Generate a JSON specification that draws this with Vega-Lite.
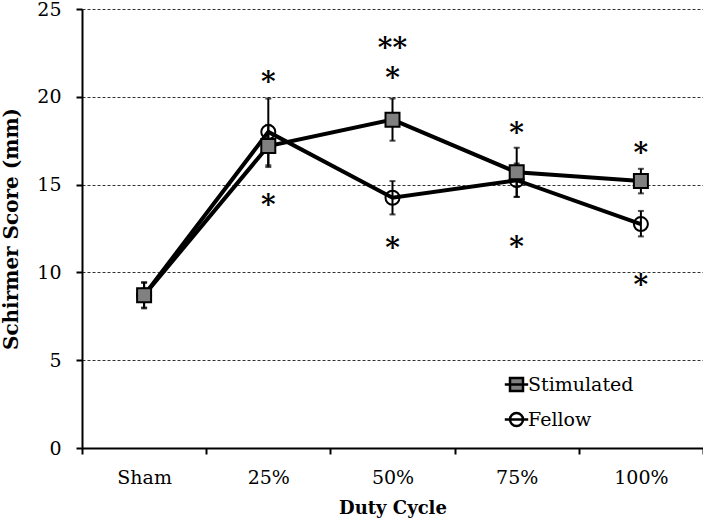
{
  "$schema": "https://vega.github.io/schema/vega-lite/v6.json",
  "width": 621,
  "height": 439,
  "autosize": {"type": "none"},
  "padding": {"left": 82, "top": 9, "right": 0, "bottom": 71},
  "background": "white",
  "config": {
    "view": {"stroke": null},
    "font": "DejaVu Serif",
    "axis": {
      "labelFont": "DejaVu Serif",
      "labelFontSize": 19,
      "labelColor": "black",
      "titleFont": "DejaVu Serif",
      "titleFontSize": 18,
      "titleFontWeight": "bold",
      "titleColor": "black",
      "domainColor": "black",
      "domainWidth": 2,
      "tickColor": "black",
      "tickWidth": 2,
      "tickSize": 6
    },
    "axisY": {"titleFontSize": 20},
    "legend": {
      "labelFont": "DejaVu Serif",
      "labelFontSize": 19,
      "labelColor": "black",
      "symbolStrokeWidth": 2.5,
      "symbolOpacity": 1
    }
  },
  "datasets": {
    "means": [
      {"group": "Stimulated", "cycle": "Sham", "mean": 8.7, "lo": 7.95, "hi": 9.45},
      {"group": "Stimulated", "cycle": "25%", "mean": 17.2, "lo": 16.0, "hi": 18.4},
      {"group": "Stimulated", "cycle": "50%", "mean": 18.7, "lo": 17.5, "hi": 19.9},
      {"group": "Stimulated", "cycle": "75%", "mean": 15.7, "lo": 14.3, "hi": 17.1},
      {"group": "Stimulated", "cycle": "100%", "mean": 15.2, "lo": 14.5, "hi": 15.9},
      {"group": "Fellow", "cycle": "Sham", "mean": 8.7, "lo": 8.0, "hi": 9.4},
      {"group": "Fellow", "cycle": "25%", "mean": 18.0, "lo": 16.1, "hi": 19.9},
      {"group": "Fellow", "cycle": "50%", "mean": 14.25, "lo": 13.3, "hi": 15.2},
      {"group": "Fellow", "cycle": "75%", "mean": 15.25, "lo": 14.3, "hi": 16.2},
      {"group": "Fellow", "cycle": "100%", "mean": 12.75, "lo": 12.05, "hi": 13.5}
    ],
    "stars": [
      {"cycle": "25%", "val": 21.15, "label": "*"},
      {"cycle": "25%", "val": 14.1, "label": "*"},
      {"cycle": "50%", "val": 23.05, "label": "**"},
      {"cycle": "50%", "val": 21.35, "label": "*"},
      {"cycle": "50%", "val": 11.7, "label": "*"},
      {"cycle": "75%", "val": 18.2, "label": "*"},
      {"cycle": "75%", "val": 11.75, "label": "*"},
      {"cycle": "100%", "val": 17.1, "label": "*"},
      {"cycle": "100%", "val": 9.55, "label": "*"}
    ]
  },
  "encoding": {
    "x": {
      "field": "cycle",
      "type": "nominal",
      "sort": null,
      "scale": {"type": "band", "domain": ["Sham", "25%", "50%", "75%", "100%"], "paddingInner": 0, "paddingOuter": 0},
      "axis": {"title": "Duty Cycle", "labelAngle": 0, "grid": false, "tickBand": "extent", "labelPadding": 14, "titlePadding": 12}
    },
    "y": {
      "field": "mean",
      "type": "quantitative",
      "title": "Schirmer Score (mm)",
      "scale": {"domain": [0, 25], "nice": false, "zero": true},
      "axis": {
        "title": "Schirmer Score (mm)",
        "values": [0, 5, 10, 15, 20, 25],
        "grid": true,
        "gridColor": "#333",
        "gridWidth": 1,
        "gridDash": [3, 2],
        "labelPadding": 15,
        "titlePadding": 15
      }
    }
  },
  "layer": [
    {
      "data": {"name": "means"},
      "mark": {"type": "line", "color": "black", "strokeWidth": 4},
      "encoding": {"detail": {"field": "group"}}
    },
    {
      "data": {"name": "means"},
      "mark": {"type": "point", "filled": true, "opacity": 0, "size": 196},
      "encoding": {
        "shape": {
          "field": "group",
          "type": "nominal",
          "scale": {"domain": ["Stimulated", "Fellow"], "range": ["M-1,-1H1V1H-1Z M-1.8,0H1.8", "M-1,0A1,1,0,1,1,1,0A1,1,0,1,1,-1,0Z M-1.8,0H1.8"]},
          "legend": {
            "title": null, "orient": "none", "legendX": 425, "legendY": 366,
            "symbolSize": 169, "symbolStrokeWidth": 2.5, "symbolOpacity": 1,
            "labelOffset": 2, "rowPadding": 12, "padding": 0
          }
        },
        "fill": {
          "field": "group",
          "type": "nominal",
          "scale": {"domain": ["Stimulated", "Fellow"], "range": ["#808080", "transparent"]},
          "legend": {
            "title": null, "orient": "none", "legendX": 425, "legendY": 366,
            "symbolSize": 169, "symbolStrokeWidth": 2.5, "symbolOpacity": 1,
            "labelOffset": 2, "rowPadding": 12, "padding": 0
          }
        },
        "stroke": {
          "field": "group",
          "type": "nominal",
          "scale": {"domain": ["Stimulated", "Fellow"], "range": ["black", "black"]},
          "legend": {
            "title": null, "orient": "none", "legendX": 425, "legendY": 366,
            "symbolSize": 169, "symbolStrokeWidth": 2.5, "symbolOpacity": 1,
            "labelOffset": 2, "rowPadding": 12, "padding": 0
          }
        }
      }
    },
    {
      "data": {"name": "means"},
      "transform": [{"filter": "datum.group === 'Fellow'"}],
      "mark": {"type": "point", "shape": "circle", "filled": false, "fill": "transparent", "stroke": "black", "strokeWidth": 2, "size": 196, "opacity": 1}
    },
    {
      "data": {"name": "means"},
      "mark": {"type": "errorbar", "color": "black", "thickness": 2, "ticks": {"size": 6, "thickness": 2, "color": "black"}},
      "encoding": {
        "y": {"field": "lo", "type": "quantitative", "title": "Schirmer Score (mm)"},
        "y2": {"field": "hi"}
      }
    },
    {
      "data": {"name": "means"},
      "transform": [{"filter": "datum.group === 'Stimulated'"}],
      "mark": {"type": "point", "shape": "square", "filled": true, "fill": "#808080", "stroke": "black", "strokeWidth": 2, "size": 196, "opacity": 1}
    },
    {
      "data": {"name": "stars"},
      "mark": {"type": "text", "fontSize": 28, "fontWeight": "bold", "font": "DejaVu Serif", "color": "black", "baseline": "middle", "dy": 6},
      "encoding": {
        "y": {"field": "val", "type": "quantitative", "title": "Schirmer Score (mm)"},
        "text": {"field": "label"}
      }
    }
  ]
}
